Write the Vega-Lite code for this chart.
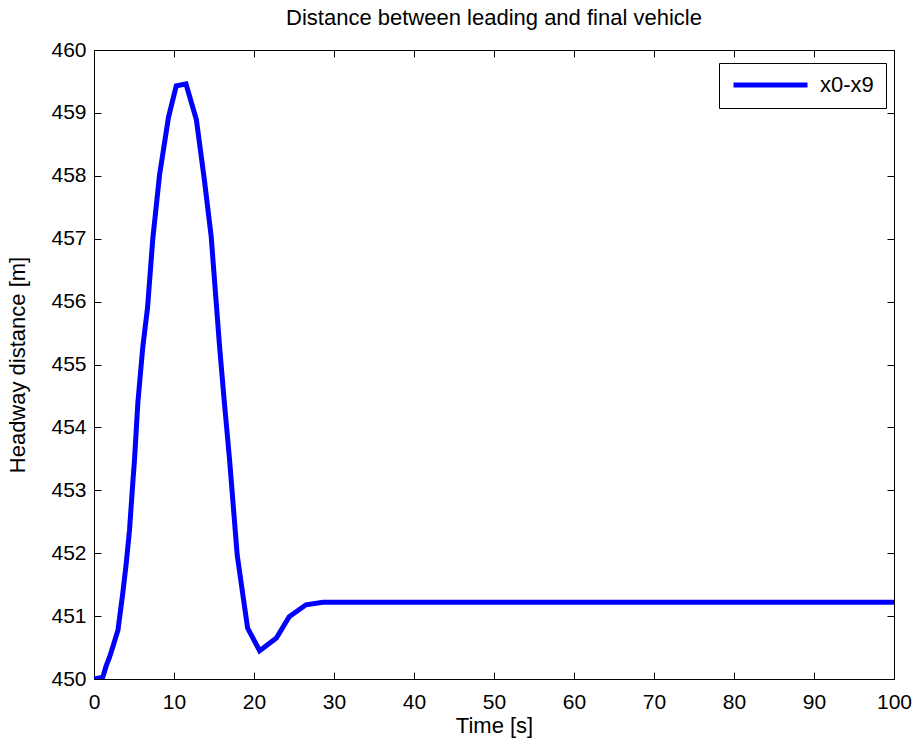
{
  "$schema": "https://vega.github.io/schema/vega-lite/v6.json",
  "width": 800,
  "height": 629,
  "autosize": {"type": "none"},
  "padding": {"left": 94, "top": 50, "right": 24, "bottom": 63},
  "background": "white",
  "title": {
    "text": "Distance between leading and final vehicle",
    "font": "Liberation Sans",
    "fontSize": 22,
    "fontWeight": "normal",
    "color": "black",
    "offset": 9
  },
  "config": {
    "view": {"stroke": "black", "strokeWidth": 1},
    "font": "Liberation Sans",
    "axis": {
      "grid": false,
      "domain": false,
      "tickColor": "black",
      "tickSize": -7,
      "labelFont": "Liberation Sans",
      "labelFontSize": 21,
      "labelColor": "black",
      "titleFont": "Liberation Sans",
      "titleFontSize": 22,
      "titleFontWeight": "normal",
      "titleColor": "black"
    }
  },
  "data": {
    "values": [
      {"t": 0, "v": 450.0, "series": "x0-x9"},
      {"t": 1.1, "v": 450.03, "series": "x0-x9"},
      {"t": 1.5, "v": 450.2, "series": "x0-x9"},
      {"t": 1.95, "v": 450.35, "series": "x0-x9"},
      {"t": 2.35, "v": 450.51, "series": "x0-x9"},
      {"t": 3.0, "v": 450.78, "series": "x0-x9"},
      {"t": 3.6, "v": 451.37, "series": "x0-x9"},
      {"t": 4.03, "v": 451.84, "series": "x0-x9"},
      {"t": 4.44, "v": 452.37, "series": "x0-x9"},
      {"t": 4.85, "v": 453.12, "series": "x0-x9"},
      {"t": 5.06, "v": 453.48, "series": "x0-x9"},
      {"t": 5.48, "v": 454.39, "series": "x0-x9"},
      {"t": 6.1, "v": 455.28, "series": "x0-x9"},
      {"t": 6.69, "v": 455.9, "series": "x0-x9"},
      {"t": 7.35, "v": 457.0, "series": "x0-x9"},
      {"t": 8.19, "v": 458.01, "series": "x0-x9"},
      {"t": 9.31, "v": 458.93, "series": "x0-x9"},
      {"t": 10.28, "v": 459.43, "series": "x0-x9"},
      {"t": 11.5, "v": 459.46, "series": "x0-x9"},
      {"t": 12.8, "v": 458.89, "series": "x0-x9"},
      {"t": 13.8, "v": 457.93, "series": "x0-x9"},
      {"t": 14.65, "v": 457.03, "series": "x0-x9"},
      {"t": 15.7, "v": 455.28, "series": "x0-x9"},
      {"t": 16.3, "v": 454.39, "series": "x0-x9"},
      {"t": 16.95, "v": 453.48, "series": "x0-x9"},
      {"t": 17.9, "v": 451.97, "series": "x0-x9"},
      {"t": 19.2, "v": 450.81, "series": "x0-x9"},
      {"t": 20.7, "v": 450.45, "series": "x0-x9"},
      {"t": 22.8, "v": 450.65, "series": "x0-x9"},
      {"t": 24.4, "v": 450.99, "series": "x0-x9"},
      {"t": 26.5, "v": 451.18, "series": "x0-x9"},
      {"t": 28.6, "v": 451.22, "series": "x0-x9"},
      {"t": 100, "v": 451.22, "series": "x0-x9"}
    ]
  },
  "layer": [
    {
      "mark": {"type": "line", "strokeWidth": 5, "clip": true},
      "encoding": {
        "x": {
          "field": "t", "type": "quantitative",
          "scale": {"domain": [0, 100], "nice": false, "zero": false},
          "axis": {"orient": "bottom", "title": "Time [s]", "values": [0,10,20,30,40,50,60,70,80,90,100], "labelPadding": 19, "titlePadding": 3, "labelFlush": false}
        },
        "y": {
          "field": "v", "type": "quantitative",
          "scale": {"domain": [450, 460], "nice": false, "zero": false},
          "axis": {"orient": "left", "title": "Headway distance [m]", "values": [450,451,452,453,454,455,456,457,458,459,460], "labelPadding": 15, "titlePadding": 21, "labelFlush": false}
        },
        "color": {
          "field": "series", "type": "nominal",
          "scale": {"range": ["#0000ff"]},
          "legend": {
            "title": null,
            "orient": "none",
            "legendX": 625,
            "legendY": 13,
            "symbolType": "stroke",
            "symbolSize": 5476,
            "symbolStrokeWidth": 5,
            "clipHeight": 20,
            "labelFont": "Liberation Sans",
            "labelFontSize": 22,
            "labelColor": "black",
            "labelOffset": 10,
            "padding": 12,
            "strokeColor": "black",
            "fillColor": "white"
          }
        }
      }
    },
    {
      "mark": {"type": "line", "strokeOpacity": 0},
      "encoding": {
        "x": {
          "field": "t", "type": "quantitative",
          "axis": {"orient": "top", "title": null, "labels": false, "values": [0,10,20,30,40,50,60,70,80,90,100]}
        },
        "y": {
          "field": "v", "type": "quantitative",
          "axis": {"orient": "right", "title": null, "labels": false, "values": [450,451,452,453,454,455,456,457,458,459,460]}
        }
      }
    }
  ]
}
